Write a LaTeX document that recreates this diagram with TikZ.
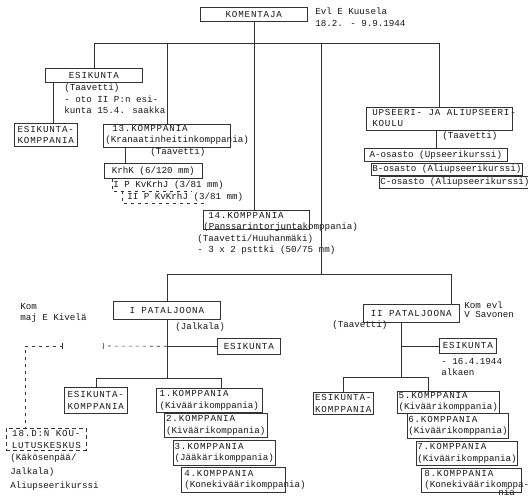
\documentclass[tikz,border=0pt]{standalone}
\usepackage{fontspec}
\setmainfont{Liberation Mono}
\newfontfamily\twc[LetterSpace=9]{Liberation Mono}
\usetikzlibrary{arrows.meta,calc}

\newcommand\twsize{\fontsize{9.2}{11.5}\selectfont}

\tikzset{
  box/.style={draw, anchor=north west, inner xsep=1pt, inner ysep=1pt},
  caps/.style={font={\fontsize{9.2}{11.5}\twc}, align=center},
  txt/.style={anchor=north west, inner sep=0pt, align=left},
  dsh/.style={dash pattern=on 3pt off 4pt},
}

\begin{document}
\begin{tikzpicture}[x=1pt, y=-1pt, line width=0.6pt, font=\twsize,
  every node/.append style={text=black!90}, draw=black!80]
\useasboundingbox[fill=white] (0,0) rectangle (528,500);

% regiment staff
\node[box, caps, minimum width=107, minimum height=14] (kom) at (200,7) {KOMENTAJA};
\node[txt] (kuusela) at (315,8) {Evl E Kuusela\\18.2. - 9.9.1944};

\node[box, caps, minimum width=97, minimum height=14] (esk) at (45,68) {ESIKUNTA};
\node[txt] (eskt) at (64,84) {(Taavetti)\\- oto II P:n esi-\\kunta 15.4. saakka};
\node[box, caps, minimum width=63, minimum height=23] (eskk) at (14,123) {ESIKUNTA-\\KOMPPANIA};

\node[box, minimum width=127, minimum height=23] (k13) at (103,124) {};
\node[txt] (k13t) at (105,125) {\hspace*{7pt}{\twc 13.KOMPPANIA}\\(Kranaatinheitinkomppania)\\\hspace*{45pt}(Taavetti)};
\node[box, minimum width=98, minimum height=15] (krhk) at (104,163) {KrhK (6/120 mm)};
\node[txt] (kv1) at (113,181) {I P KvKrhJ (3/81 mm)};
\node[txt] (kv2) at (127,193) {II P KvKrhJ (3/81 mm)};

\node[box, minimum width=106, minimum height=19] (k14) at (203,210) {};
\node[txt] (k14t) at (197,212) {\hspace*{11pt}{\twc 14.KOMPPANIA}\\\hspace*{6pt}(Panssarintorjuntakomppania)\\(Taavetti/Huuhanmäki)\\- 3 x 2 psttki (50/75 mm)};

\node[box, minimum width=146, minimum height=23] (uak) at (366,107) {};
\node[txt] (uakt) at (372,109) {{\twc UPSEERI- JA ALIUPSEERI-}\\{\twc KOULU}\\\hspace*{70pt}(Taavetti)};
\node[box, minimum width=143, minimum height=13] (osA) at (364,148) {A-osasto (Upseerikurssi)};
\node[box, minimum width=143, minimum height=12] (osB) at (371,163) {B-osasto (Aliupseerikurssi)};
\node[box, minimum width=145, minimum height=12] (osC) at (379,176) {C-osasto (Aliupseerikurssi)};

\coordinate (bar) at (0,43);
\coordinate (trunk) at (321,43);
\coordinate (eskdrop) at ([xshift=8pt]esk.south west);
\coordinate (k13drop) at ([xshift=22pt]k13.south west);
\draw (esk.north) -- (esk.north |- bar) -- (uak.north |- bar) -- (uak.north);
\draw (k13.north |- bar) -- (k13.north);
\draw (kom.south) -- (kom.south |- k14.north);
\draw (eskdrop) -- (eskdrop |- eskk.north);
\draw (k13drop) -- (k13drop |- krhk.north);
\draw (osA.north |- uak.south) -- (osA.north);

% mortar platoons
\coordinate (d1) at (112,191);
\coordinate (d2) at (192,191);
\coordinate (d3) at (122,203);
\coordinate (d4) at (205,203);
\draw[dsh] (krhk.south -| d1) -- (d1) -- (d2);
\draw[dsh] (d1 -| d3) -- (d3) -- (d4);

% battalions
\coordinate (pbar) at (0,274);
\node[box, caps, minimum width=107, minimum height=18] (pat1) at (113,301) {I PATALJOONA};
\node[txt] (jalkala) at (175,323) {(Jalkala)};
\node[txt] (kivela) at (20,303) {Kom\\maj E Kivelä};
\node[box, caps, minimum width=96, minimum height=18] (pat2) at (363,304) {II PATALJOONA};
\node[txt] (taav2) at (332,321) {(Taavetti)};
\node[txt] (savonen) at (464,302) {Kom evl\\[-2.5pt]V Savonen};

\coordinate (p2in) at ([xshift=-8pt]pat2.north east);
\draw (trunk) -- (trunk |- pbar);
\draw (pat1.north) -- (pat1.north |- pbar) -- (p2in |- pbar) -- (p2in);

% I battalion
\node[box, caps, minimum width=63, minimum height=16] (esk1) at (217,338) {ESIKUNTA};
\node[box, caps, minimum width=63, minimum height=26] (eskk2) at (64,387) {ESIKUNTA-\\KOMPPANIA};
\node[box, align=left, minimum width=106, minimum height=24] (k1) at (156,388) {{\twc 1.KOMPPANIA}\\(Kiväärikomppania)};
\node[box, align=left, minimum width=103, minimum height=24] (k2) at (164,413) {{\twc 2.KOMPPANIA}\\(Kiväärikomppania)};
\node[box, align=left, minimum width=102, minimum height=25] (k3) at (173,440) {{\twc 3.KOMPPANIA}\\(Jääkärikomppania)};
\node[box, minimum width=104, minimum height=25] (k4) at (181,467) {};
\node[txt] (k4t) at (184,470) {{\twc 4.KOMPPANIA}\\(Konekiväärikomppania)};

\node[box, caps, dash pattern=on 4pt off 3pt, minimum width=80, minimum height=22] (kk18) at (6,428) {18.D:N KOU-\\LUTUSKESKUS};
\node[txt] (kk18t) at (10,454) {(Käkösenpää/\\[2.5pt]Jalkala)\\[2.5pt]Aliupseerikurssi};

\coordinate (cb1) at (0,378);
\coordinate (brk1) at (103,346);
\coordinate (brk2) at (63,346);
\coordinate (k1in) at ([xshift=12pt]k1.north);
\coordinate (kk18in) at ([xshift=19pt]kk18.north west);
\draw (pat1.south) -- (pat1.south |- cb1);
\draw (pat1.south |- esk1.west) -- (esk1.west);
\draw[dsh, -{Bar[width=6pt]}] (pat1.south |- esk1.west) -- (brk1);
\draw[dsh, {Bar[width=6pt]}-] (brk2) -| (kk18in);
\draw (eskk2.north) -- (eskk2.north |- cb1) -- (k1in |- cb1) -- (k1in);

% II battalion
\node[box, caps, minimum width=57, minimum height=15] (esk2) at (439,338) {ESIKUNTA};
\node[txt] (esk2t) at (441,358) {- 16.4.1944\\alkaen};
\node[box, caps, minimum width=60, minimum height=22] (eskk3) at (313,392) {ESIKUNTA-\\KOMPPANIA};
\node[box, align=left, minimum width=102, minimum height=21] (k5) at (397,391) {{\twc 5.KOMPPANIA}\\(Kiväärikomppania)};
\node[box, align=left, minimum width=99, minimum height=25] (k6) at (407,413) {{\twc 6.KOMPPANIA}\\(Kiväärikomppania)};
\node[box, align=left, minimum width=98, minimum height=24] (k7) at (416,441) {{\twc 7.KOMPPANIA}\\(Kiväärikomppania)};
\node[box, minimum width=100, minimum height=24] (k8) at (421,468) {};
\node[txt] (k8t) at (424,470) {{\twc 8.KOMPPANIA}\\(Konekiväärikomppa-\\[-3.5pt]\hspace*{74pt}nia};

\coordinate (cb2) at (0,377);
\coordinate (p2out) at ([xshift=-10pt]pat2.south);
\coordinate (k5in) at ([xshift=-20pt]k5.north);
\draw (p2out) -- (p2out |- cb2);
\draw (p2out |- esk2.west) -- (esk2.west);
\draw (eskk3.north) -- (eskk3.north |- cb2) -- (k5in |- cb2) -- (k5in);
\end{tikzpicture}
\end{document}
